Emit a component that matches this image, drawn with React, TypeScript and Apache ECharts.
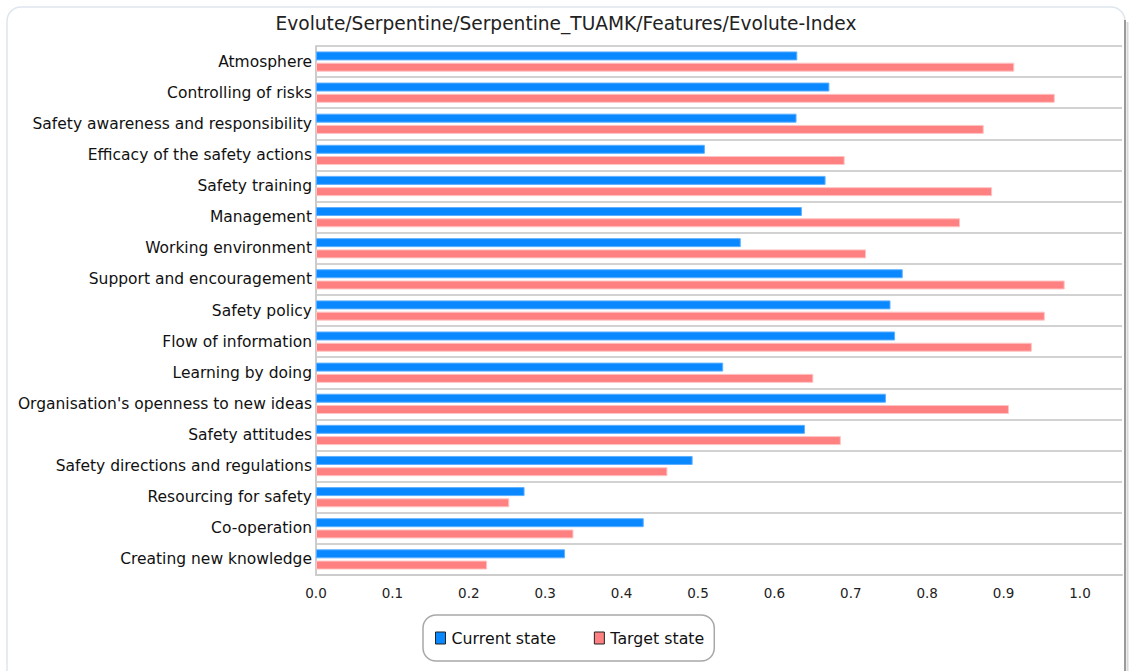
import React, { useEffect, useRef } from "react";
import * as echarts from "echarts";

const titleText = "Evolute/Serpentine/Serpentine_TUAMK/Features/Evolute-Index";
const categories = [
  "Atmosphere",
  "Controlling of risks",
  "Safety awareness and responsibility",
  "Efficacy of the safety actions",
  "Safety training",
  "Management",
  "Working environment",
  "Support and encouragement",
  "Safety policy",
  "Flow of information",
  "Learning by doing",
  "Organisation's openness to new ideas",
  "Safety attitudes",
  "Safety directions and regulations",
  "Resourcing for safety",
  "Co-operation",
  "Creating new knowledge",
];
const currentState = [0.63, 0.672, 0.629, 0.509, 0.667, 0.636, 0.556, 0.768, 0.752, 0.758, 0.533, 0.746, 0.64, 0.493, 0.273, 0.429, 0.326];
const targetState = [0.914, 0.967, 0.874, 0.692, 0.885, 0.843, 0.72, 0.98, 0.954, 0.937, 0.651, 0.907, 0.687, 0.46, 0.253, 0.337, 0.224];
const seriesNames = ["Current state", "Target state"];

export default function App() {
  const ref = useRef<HTMLDivElement>(null);
  useEffect(() => {
    const chart = echarts.init(ref.current!, null, { renderer: "svg" });
    const font = "DejaVu Sans";
    chart.setOption({
      animation: false,
      backgroundColor: "#ffffff",
      graphic: [
        {
          type: "rect",
          z: -10,
          silent: true,
          shape: { x: 7, y: 7, width: 1118, height: 690, r: 14 },
          style: { fill: "#ffffff", stroke: "#dfe6ee", lineWidth: 1.5 },
        },
        {
          type: "line",
          z: -5,
          silent: true,
          shape: { x1: 1125, y1: 20, x2: 1125, y2: 671 },
          style: { stroke: "#9a9a9a", lineWidth: 2 },
        },
        {
          type: "line",
          z: -5,
          silent: true,
          shape: { x1: 1127.5, y1: 22, x2: 1127.5, y2: 671 },
          style: { stroke: "#d8d8d8", lineWidth: 2 },
        },
      ],
      title: {
        text: titleText,
        left: "center",
        top: 9,
        textStyle: { fontFamily: font, fontSize: 18.6, fontWeight: "normal", color: "#222" },
      },
      legend: {
        data: seriesNames,
        left: 423,
        top: 615,
        padding: [15, 10, 15, 12],
        itemGap: 38,
        itemWidth: 10,
        itemHeight: 12,
        icon: "rect",
        backgroundColor: "#ffffff",
        borderColor: "#a8a8a8",
        borderWidth: 1.5,
        borderRadius: 13,
        textStyle: { fontFamily: font, fontSize: 15.8, color: "#111", padding: [0, 0, 0, 1] },
        itemStyle: { borderColor: "#222", borderWidth: 1 },
      },
      grid: { left: 316, right: 10, top: 46, bottom: 96, containLabel: false },
      xAxis: {
        type: "value",
        min: 0,
        max: 1.055,
        interval: 0.1,
        axisLine: { show: true, lineStyle: { color: "#cccccc", width: 2 } },
        axisTick: { show: false },
        splitLine: { show: false },
        axisLabel: {
          margin: 11,
          showMaxLabel: false,
          fontFamily: font,
          fontSize: 13.5,
          color: "#222",
          formatter: (v: number) => v.toFixed(1),
        },
      },
      yAxis: {
        type: "category",
        data: categories,
        inverse: true,
        axisLine: { show: true, lineStyle: { color: "#cccccc", width: 2 } },
        axisTick: { show: false },
        splitLine: { show: true, lineStyle: { color: "#d2d2d2", width: 2 } },
        axisLabel: { margin: 4, fontFamily: font, fontSize: 15.5, color: "#111" },
      },
      series: [
        {
          name: seriesNames[0],
          type: "bar",
          data: currentState,
          barWidth: 9,
          barGap: "25%",
          itemStyle: { color: "#0a88ff", borderColor: "#5eb0ff", borderWidth: 1 },
        },
        {
          name: seriesNames[1],
          type: "bar",
          data: targetState,
          barWidth: 9,
          barGap: "25%",
          itemStyle: { color: "#ff8080", borderColor: "#ffc4c4", borderWidth: 1 },
        },
      ],
    });
    return () => chart.dispose();
  }, []);
  return (
    <div
      ref={ref}
      style={{ position: "absolute", left: 0, top: 0, width: 1132, height: 671 }}
    />
  );
}
